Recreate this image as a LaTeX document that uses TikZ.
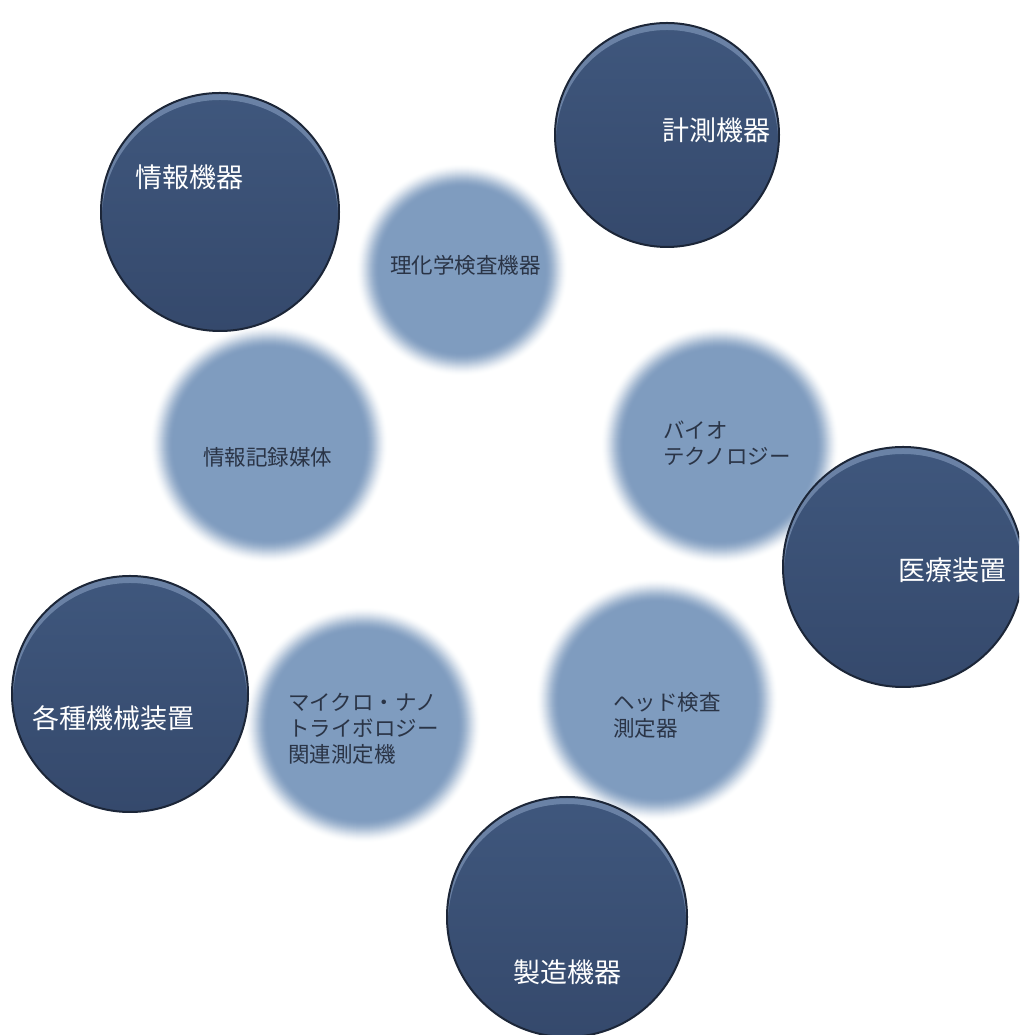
\documentclass[tikz,border=0pt]{standalone}
\usepackage{fontspec}
\newfontfamily\jpfont{Noto Sans CJK JP}
\usetikzlibrary{calc}

\definecolor{navytop}{HTML}{3F577D}
\definecolor{navybot}{HTML}{35496C}
\definecolor{navyrim}{HTML}{1C2638}
\definecolor{hilite}{HTML}{8FA6C8}
\definecolor{paleblue}{HTML}{7F9CBF}
\definecolor{paletext}{HTML}{2A3446}

\tikzset{
  darkdisc/.style={circle, inner sep=0pt, top color=navytop, bottom color=navybot,
    draw=navyrim, line width=2pt,
    path picture={
      \fill[hilite, opacity=.55, even odd rule]
        let \p1=(path picture bounding box.north), \p2=(path picture bounding box.center) in
        (path picture bounding box.south west) rectangle (path picture bounding box.north east)
        (\x2,\y2-6pt) circle ({\y1-\y2-1pt});
    }},
  softdisc/.style={circle, inner sep=0pt,
    path picture={
      \foreach \k in {1,...,24}{
        \pgfmathsetmacro\fadeB{(\k-1)/24}
        \pgfmathsetmacro\fadeA{\k/24}
        \pgfmathsetmacro\covB{3*\fadeB^2-2*\fadeB^3}
        \pgfmathsetmacro\covA{3*\fadeA^2-2*\fadeA^3}
        \pgfmathsetmacro\fadeop{min(1,(\covA-\covB)/(1-\covB))}
        \fill[paleblue, opacity=\fadeop]
          let \p1=(path picture bounding box.north), \p2=(path picture bounding box.center) in
          (\p2) circle ({\y1-\y2-\k*1pt});
      }
    }},
  darklabel/.style={anchor=west, inner sep=0pt, text=white, font=\jpfont\fontsize{27}{32}\selectfont},
  palelabel/.style={anchor=west, inner sep=0pt, align=left, text=paletext, font=\jpfont\fontsize{21.5}{26}\selectfont}
}

\begin{document}
\begin{tikzpicture}[x=1pt, y=1pt]

    \useasboundingbox (0,0) rectangle (1019,1035);
    \clip (0,0) rectangle (1019,1035);

    \node[softdisc, minimum size=214pt] (chem)  at (462,765) {};
    \node[softdisc, minimum size=240pt] (media) at (269,591) {};
    \node[softdisc, minimum size=240pt] (bio)   at (720,590) {};
    \node[softdisc, minimum size=238pt] (micro) at (363,310) {};
    \node[softdisc, minimum size=244pt] (head)  at (657,335) {};

    \node[darkdisc, minimum size=238pt] (info)  at (220,823) {};
    \node[darkdisc, minimum size=224pt] (meas)  at (667,900) {};
    \node[darkdisc, minimum size=240pt] (med)   at (903,468) {};
    \node[darkdisc, minimum size=236pt] (mech)  at (130,341) {};
    \node[darkdisc, minimum size=240pt] (mfg)   at (567,118) {};

    \node[palelabel] (chem_txt)  at (390,770) {理化学検査機器};
    \node[palelabel] (media_txt) at (203,578) {情報記録媒体};
    \node[palelabel] (bio_txt)   at (663,592) {バイオ\\テクノロジー};
    \node[palelabel] (micro_txt) at (288,306) {マイクロ・ナノ\\トライボロジー\\関連測定機};
    \node[palelabel] (head_txt)  at (613,320) {ヘッド検査\\測定器};

    \node[darklabel] (info_txt) at (135,858) {情報機器};
    \node[darklabel] (meas_txt) at (662,905) {計測機器};
    \node[darklabel] (med_txt)  at (898,465) {医療装置};
    \node[darklabel] (mech_txt) at (32,317)  {各種機械装置};
    \node[darklabel] (mfg_txt)  at (513,63)  {製造機器};

\end{tikzpicture}
\end{document}
